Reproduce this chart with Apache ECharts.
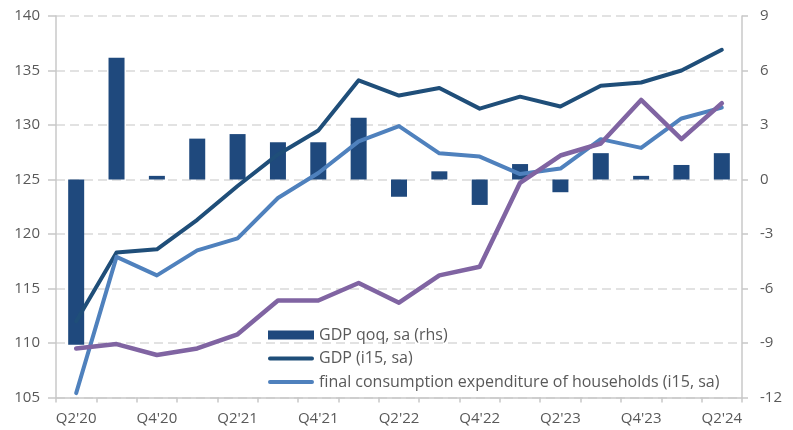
<!DOCTYPE html>
<html>
<head>
<meta charset="utf-8">
<script src="https://cdn.jsdelivr.net/npm/echarts@6/dist/echarts.min.js"></script>
<style>
html,body{margin:0;padding:0;background:#fff;}
#chart{width:793px;height:430px;}
</style>
</head>
<body>
<div id="chart"></div>
<script>
var quarters = ["Q2'20","Q3'20","Q4'20","Q1'21","Q2'21","Q3'21","Q4'21","Q1'22","Q2'22","Q3'22","Q4'22","Q1'23","Q2'23","Q3'23","Q4'23","Q1'24","Q2'24"];
var gdpQoq = [-9.1, 6.7, 0.2, 2.25, 2.5, 2.05, 2.05, 3.4, -0.95, 0.45, -1.4, 0.85, -0.7, 1.45, 0.2, 0.8, 1.45];
var gdpIndex = [112.0, 118.3, 118.6, 121.3, 124.4, 127.3, 129.5, 134.1, 132.7, 133.4, 131.5, 132.6, 131.7, 133.6, 133.9, 135.0, 136.9];
var consumption = [105.4, 117.9, 116.2, 118.5, 119.6, 123.3, 125.6, 128.5, 129.9, 127.4, 127.1, 125.5, 126.0, 128.7, 127.9, 130.6, 131.6];
var purpleSeries = [109.5, 109.9, 108.9, 109.5, 110.8, 113.9, 113.9, 115.5, 113.7, 116.2, 117.0, 124.7, 127.2, 128.3, 132.3, 128.7, 132.0];
var leftTicks = {min: 105, max: 140, interval: 5};
var rightTicks = {min: -12, max: 9, interval: 3};

var FONT = 'Open Sans';
var TXT = '#595959';
var AXIS = '#c8c8c8';
var LINE_ICON = 'path://M2,0 L46,0 A2,2 0 0 1 46,4 L2,4 A2,2 0 0 1 2,0 Z';

var chart = echarts.init(document.getElementById('chart'), null, {renderer: 'canvas'});
chart.setOption({
  animation: false,
  backgroundColor: '#ffffff',
  grid: {left: 56, right: 51, top: 16, bottom: 32.5, containLabel: false},
  legend: {
    orient: 'vertical',
    left: 263,
    top: 322,
    itemWidth: 46,
    itemHeight: 9,
    itemGap: 7.5,
    symbolKeepAspect: true,
    textStyle: {fontFamily: FONT, fontSize: 16, color: TXT},
    data: [
      {name: 'GDP qoq, sa (rhs)', icon: 'rect'},
      {name: 'GDP (i15, sa)', icon: LINE_ICON},
      {name: 'final consumption expenditure of households (i15, sa)', icon: LINE_ICON}
    ]
  },
  xAxis: {
    type: 'category',
    data: quarters,
    boundaryGap: true,
    axisLine: {onZero: false, lineStyle: {color: AXIS, width: 1.5}},
    axisTick: {show: true, interval: 0, length: 5, lineStyle: {color: AXIS, width: 1.5}},
    axisLabel: {interval: 1, margin: 14, fontFamily: FONT, fontSize: 15, color: TXT},
    splitLine: {show: false}
  },
  yAxis: [
    {
      type: 'value',
      min: leftTicks.min, max: leftTicks.max, interval: leftTicks.interval,
      position: 'left',
      axisLine: {show: true, lineStyle: {color: AXIS, width: 1.5}},
      axisTick: {show: true, length: 8, lineStyle: {color: AXIS, width: 1.5}},
      axisLabel: {margin: 16, fontFamily: FONT, fontSize: 15, color: TXT},
      splitLine: {show: true, lineStyle: {color: '#d9d9d9', width: 1.5, type: [9, 5]}}
    },
    {
      type: 'value',
      min: rightTicks.min, max: rightTicks.max, interval: rightTicks.interval,
      position: 'right',
      axisLine: {show: true, lineStyle: {color: AXIS, width: 1.5}},
      axisTick: {show: true, length: 6, lineStyle: {color: AXIS, width: 1.5}},
      axisLabel: {margin: 18, fontFamily: FONT, fontSize: 15, color: TXT},
      splitLine: {show: false}
    }
  ],
  series: [
    {
      name: 'GDP qoq, sa (rhs)',
      type: 'bar',
      yAxisIndex: 1,
      data: gdpQoq,
      barWidth: 16,
      itemStyle: {color: '#1f497d'},
      z: 1
    },
    {
      name: 'GDP (i15, sa)',
      type: 'line',
      yAxisIndex: 0,
      data: gdpIndex,
      showSymbol: false,
      symbol: 'none',
      lineStyle: {color: '#1f4e79', width: 4, cap: 'round', join: 'round'},
      itemStyle: {color: '#1f4e79'},
      z: 2
    },
    {
      name: 'final consumption expenditure of households (i15, sa)',
      type: 'line',
      yAxisIndex: 0,
      data: consumption,
      showSymbol: false,
      symbol: 'none',
      lineStyle: {color: '#4f81bd', width: 4, cap: 'round', join: 'round'},
      itemStyle: {color: '#4f81bd'},
      z: 3
    },
    {
      name: 'other',
      type: 'line',
      yAxisIndex: 0,
      data: purpleSeries,
      showSymbol: false,
      symbol: 'none',
      lineStyle: {color: '#8064a2', width: 4.5, cap: 'round', join: 'round'},
      itemStyle: {color: '#8064a2'},
      z: 4
    }
  ]
});
</script>
</body>
</html>
